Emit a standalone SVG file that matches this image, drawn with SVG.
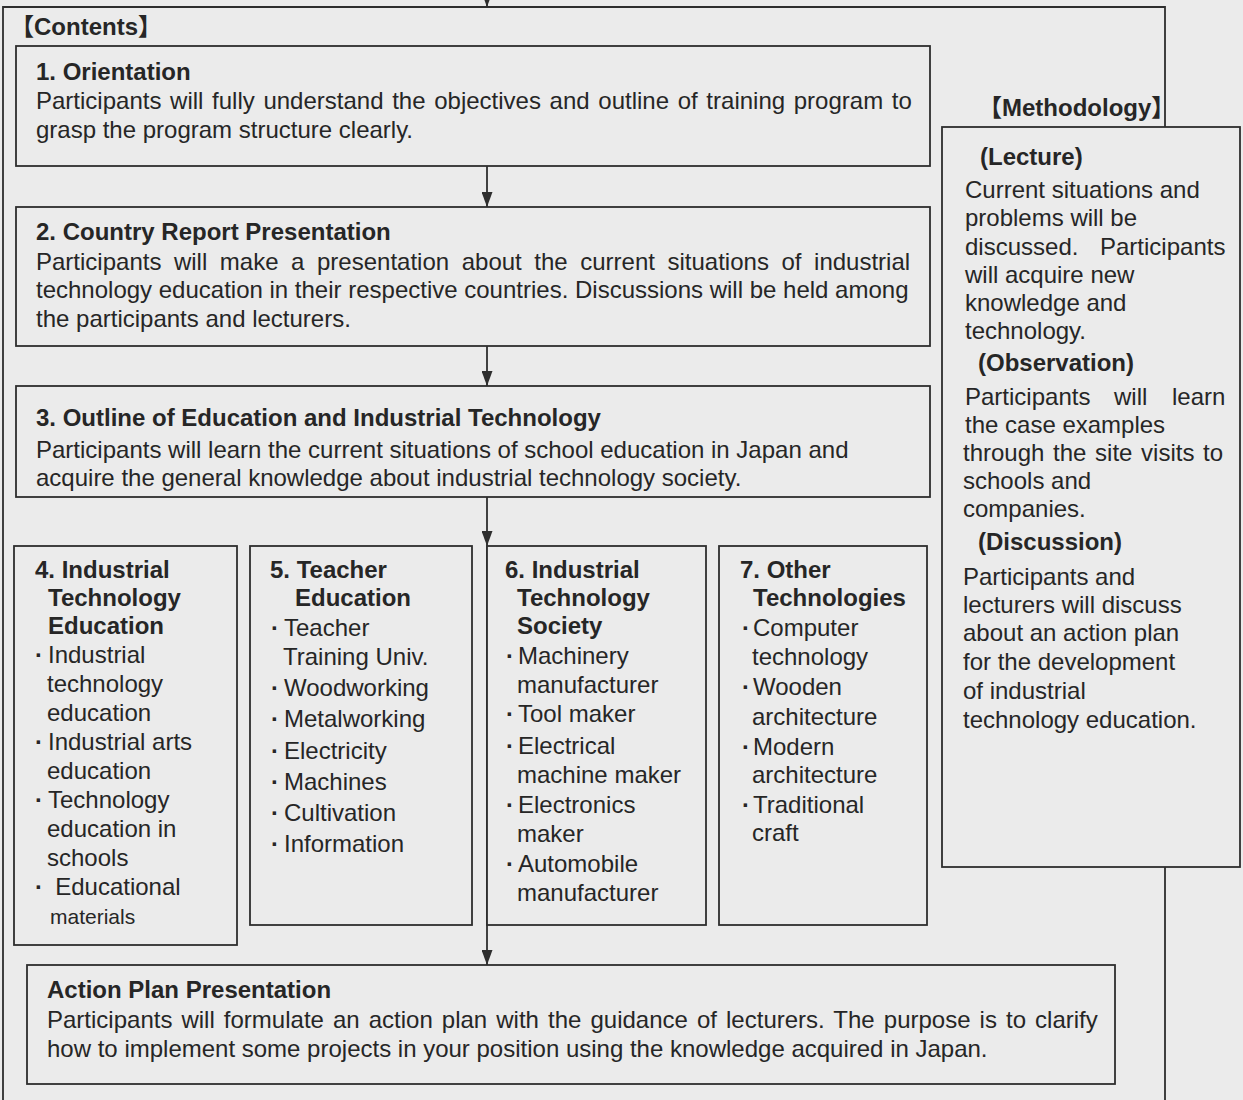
<svg xmlns="http://www.w3.org/2000/svg" width="1243" height="1100" viewBox="0 0 1243 1100">
<defs>
<style>
.bg{fill:#ebebeb}
.box{fill:#ebebeb;stroke:#2e2e2e;stroke-width:1.8}
.ln{fill:none;stroke:#2e2e2e;stroke-width:1.8}
text{font-family:"Liberation Sans",Arial,"Noto Sans CJK JP",sans-serif;font-size:24px;fill:#262626}
.b{font-weight:bold}
.d{font-weight:bold}
.sm{font-size:21px}
</style>
<marker id="arr" viewBox="0 0 15 11" refX="15" refY="5.5" markerWidth="15" markerHeight="11" markerUnits="userSpaceOnUse" orient="auto">
<path d="M0,0 L15,5.5 L0,11 z" fill="#2e2e2e"/>
</marker>
</defs>
<rect class="bg" x="0" y="0" width="1243" height="1100"/>

<g id="frame">
<path class="ln" d="M3,1100 V7 H1165 V1100"/>
<text class="b" x="10" y="35">【Contents】</text>
</g>

<g id="connectors">
<line class="ln" x1="487" y1="-10" x2="487" y2="7" marker-end="url(#arr)"/>
<line class="ln" x1="487" y1="166" x2="487" y2="207" marker-end="url(#arr)"/>
<line class="ln" x1="487" y1="346" x2="487" y2="386" marker-end="url(#arr)"/>
<line class="ln" x1="487" y1="497" x2="487" y2="546" marker-end="url(#arr)"/>
<line class="ln" x1="487" y1="546" x2="487" y2="965" marker-end="url(#arr)"/>
</g>

<g id="orientation">
<rect class="box" x="16" y="46" width="914" height="120"/>
<text class="b" x="36" y="80">1. Orientation</text>
<text x="36" y="109" word-spacing="2">Participants will fully understand the objectives and outline of training program to</text>
<text x="36" y="138">grasp the program structure clearly.</text>
</g>

<g id="country-report">
<rect class="box" x="16" y="207" width="914" height="139"/>
<text class="b" x="36" y="240">2. Country Report Presentation</text>
<text x="36" y="270" word-spacing="5.9">Participants will make a presentation about the current situations of industrial</text>
<text x="36" y="298">technology education in their respective countries. Discussions will be held among</text>
<text x="36" y="327">the participants and lecturers.</text>
</g>

<g id="outline">
<rect class="box" x="16" y="386" width="914" height="111"/>
<text class="b" x="36" y="426">3. Outline of Education and Industrial Technology</text>
<text x="36" y="458">Participants will learn the current situations of school education in Japan and</text>
<text x="36" y="486">acquire the general knowledge about industrial technology society.</text>
</g>

<g id="industrial-technology-education">
<rect class="box" x="14" y="546" width="223" height="399"/>
<text class="b"><tspan x="35" y="578">4. Industrial</tspan><tspan x="48" y="606">Technology</tspan><tspan x="48" y="634">Education</tspan></text>
<text x="35" y="663"><tspan class="d">·</tspan><tspan dx="5">Industrial</tspan></text>
<text x="47" y="692">technology</text>
<text x="47" y="721">education</text>
<text x="35" y="750"><tspan class="d">·</tspan><tspan dx="5">Industrial arts</tspan></text>
<text x="47" y="779">education</text>
<text x="35" y="808"><tspan class="d">·</tspan><tspan dx="5">Technology</tspan></text>
<text x="47" y="837">education in</text>
<text x="47" y="866">schools</text>
<text x="35" y="895"><tspan class="d">·</tspan> <tspan dx="5.5">Educational</tspan></text>
<text class="sm" x="50" y="924">materials</text>
</g>

<g id="teacher-education">
<rect class="box" x="250" y="546" width="222" height="379"/>
<text class="b"><tspan x="270" y="578">5. Teacher</tspan><tspan x="295" y="606">Education</tspan></text>
<text x="271" y="636"><tspan class="d">·</tspan><tspan dx="5">Teacher</tspan></text>
<text x="283" y="665">Training Univ.</text>
<text x="271" y="696"><tspan class="d">·</tspan><tspan dx="5">Woodworking</tspan></text>
<text x="271" y="727"><tspan class="d">·</tspan><tspan dx="5">Metalworking</tspan></text>
<text x="271" y="759"><tspan class="d">·</tspan><tspan dx="5">Electricity</tspan></text>
<text x="271" y="790"><tspan class="d">·</tspan><tspan dx="5">Machines</tspan></text>
<text x="271" y="821"><tspan class="d">·</tspan><tspan dx="5">Cultivation</tspan></text>
<text x="271" y="852"><tspan class="d">·</tspan><tspan dx="5">Information</tspan></text>
</g>

<g id="industrial-technology-society">
<rect class="box" x="487" y="546" width="219" height="379"/>
<text class="b"><tspan x="505" y="578">6. Industrial</tspan><tspan x="517" y="606">Technology</tspan><tspan x="517" y="634">Society</tspan></text>
<text x="506" y="664"><tspan class="d">·</tspan><tspan dx="4">Machinery</tspan></text>
<text x="517" y="693">manufacturer</text>
<text x="506" y="722"><tspan class="d">·</tspan><tspan dx="4">Tool maker</tspan></text>
<text x="506" y="754"><tspan class="d">·</tspan><tspan dx="4">Electrical</tspan></text>
<text x="517" y="783">machine maker</text>
<text x="506" y="813"><tspan class="d">·</tspan><tspan dx="4">Electronics</tspan></text>
<text x="517" y="842">maker</text>
<text x="506" y="872"><tspan class="d">·</tspan><tspan dx="4">Automobile</tspan></text>
<text x="517" y="901">manufacturer</text>
</g>

<g id="other-technologies">
<rect class="box" x="719" y="546" width="208" height="379"/>
<text class="b"><tspan x="740" y="578">7. Other</tspan><tspan x="753" y="606">Technologies</tspan></text>
<text x="742" y="636"><tspan class="d">·</tspan><tspan dx="3">Computer</tspan></text>
<text x="752" y="665">technology</text>
<text x="742" y="695"><tspan class="d">·</tspan><tspan dx="3">Wooden</tspan></text>
<text x="752" y="725">architecture</text>
<text x="742" y="755"><tspan class="d">·</tspan><tspan dx="3">Modern</tspan></text>
<text x="752" y="783">architecture</text>
<text x="742" y="813"><tspan class="d">·</tspan><tspan dx="3">Traditional</tspan></text>
<text x="752" y="841">craft</text>
</g>

<g id="action-plan">
<rect class="box" x="27" y="965" width="1088" height="119"/>
<text class="b" x="47" y="998">Action Plan Presentation</text>
<text x="47" y="1028" word-spacing="2.4">Participants will formulate an action plan with the guidance of lecturers. The purpose is to clarify</text>
<text x="47" y="1057">how to implement some projects in your position using the knowledge acquired in Japan.</text>
</g>

<g id="methodology">
<text class="b" x="978" y="116">【Methodology】</text>
<rect class="box" x="942" y="127" width="298" height="740"/>
<text class="b" x="980" y="165">(Lecture)</text>
<text x="965" y="198">Current situations and</text>
<text x="965" y="226">problems will be</text>
<text x="965" y="255">discussed. <tspan x="1100">Participants</tspan></text>
<text x="965" y="283">will acquire new</text>
<text x="965" y="311">knowledge and</text>
<text x="965" y="339">technology.</text>
<text class="b" x="978" y="371">(Observation)</text>
<text x="965" y="405">Participants <tspan x="1114">will</tspan> <tspan x="1172">learn</tspan></text>
<text x="965" y="433">the case examples</text>
<text x="963" y="461" word-spacing="2">through the site visits to</text>
<text x="963" y="489">schools and</text>
<text x="963" y="517">companies.</text>
<text class="b" x="978" y="550">(Discussion)</text>
<text x="963" y="585">Participants and</text>
<text x="963" y="613">lecturers will discuss</text>
<text x="963" y="641">about an action plan</text>
<text x="963" y="670">for the development</text>
<text x="963" y="699">of industrial</text>
<text x="963" y="728">technology education.</text>
</g>
</svg>
